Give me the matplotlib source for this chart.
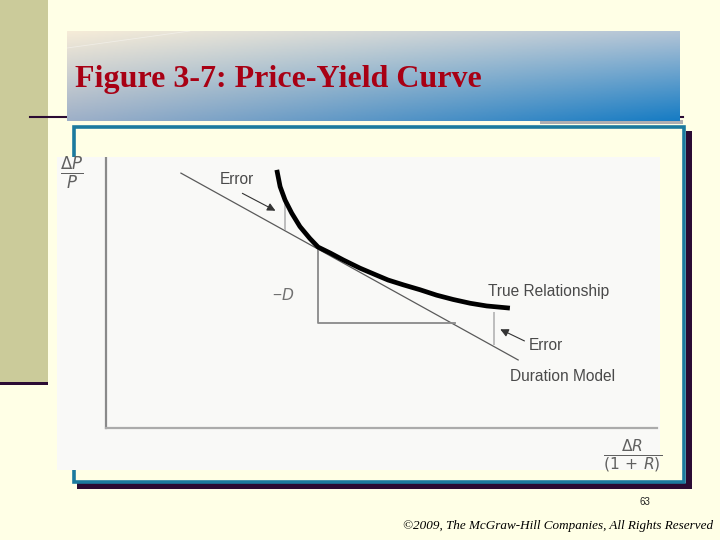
import numpy as np
import matplotlib
matplotlib.use('Agg')
import matplotlib.pyplot as plt
from matplotlib.patches import Rectangle

# --- diagram data (axis units: x = dR/(1+R), y = dP/P) ---
curve_x = [3.10, 3.16, 3.25, 3.37, 3.52, 3.70, 3.85, 4.07, 4.31, 4.61,
           4.91, 5.12, 5.40, 5.70, 6.00, 6.30, 6.61, 6.91, 7.33]
curve_y = [4.78, 4.47, 4.22, 3.98, 3.73, 3.51, 3.35, 3.24, 3.11, 2.96,
           2.83, 2.74, 2.65, 2.56, 2.46, 2.38, 2.31, 2.26, 2.22]
dur_x = [1.36, 7.48]
dur_y = [4.72, 1.26]
slope_x = [3.85, 3.85, 6.33]          # the "-D" rise/run triangle
slope_y = [3.33, 1.94, 1.94]
err_x = [3.25, 7.04]
err_lo = [3.67, 1.54]
err_hi = [4.25, 2.15]
axis_x_max = 10.0
axis_y_max = 5.0

title = 'Figure 3-7: Price-Yield Curve'
copyright_txt = '\u00a92009, The McGraw-Hill Companies, All Rights Reserved'
slide_no = '63'

BG = '#FFFFE6'
PANEL = '#F9F9F7'
BLUE = '#1B7A9E'
SHADOW = '#2B0B33'

plt.rcParams['mathtext.fontset'] = 'dejavusans'

fig = plt.figure(figsize=(7.2, 5.4), dpi=100)
fig.patch.set_facecolor(BG)

# --- slide background (pixel coords) ---
bg = fig.add_axes([0, 0, 1, 1])
bg.set_xlim(0, 720)
bg.set_ylim(540, 0)
bg.axis('off')

bg.add_patch(Rectangle((0, 0), 48, 382, color='#CBCB9A', lw=0))
bg.add_patch(Rectangle((0, 382), 48, 3, color=SHADOW, lw=0))
bg.plot([30, 683], [117, 117], color=SHADOW, lw=1.5)
bg.add_patch(Rectangle((540, 120), 143, 4, color='#AFAFB2', lw=0))

# gradient title box
h, w = 60, 240
u = np.linspace(0, 1, w)[None, :, None]
v = np.linspace(0, 1, h)[:, None, None]
tl = np.array([246, 236, 216]) / 255
tr = np.array([178, 196, 214]) / 255
bl = np.array([158, 176, 200]) / 255
br = np.array([22, 124, 196]) / 255
grad = (tl * (1 - u) * (1 - v) + tr * u * (1 - v) + bl * (1 - u) * v + br * u * v)
bg.imshow(grad, extent=(67, 680, 121, 31), aspect='auto', origin='upper', zorder=2)
bg.plot([67, 190], [48, 31], color='white', lw=0.6, alpha=0.4, zorder=3)
bg.set_xlim(0, 720)
bg.set_ylim(540, 0)

bg.text(75, 80, title, fontsize=23, fontweight='bold', family='Liberation Serif',
        color='#A80014', va='center', ha='left', zorder=4)

# content frame with shadow
bg.add_patch(Rectangle((686, 131), 6, 358, color=SHADOW, lw=0))
bg.add_patch(Rectangle((77, 483), 615, 6, color=SHADOW, lw=0))
bg.add_patch(Rectangle((73.5, 126.5), 610, 355, fill=False, ec=BLUE, lw=2.6))

bg.text(645, 502, slide_no, fontsize=7, family='Liberation Sans', color='#222',
        ha='center', va='center')
bg.text(713, 526, copyright_txt, fontsize=9.45, style='italic', family='Liberation Serif',
        color='black', ha='right', va='center')

# --- diagram panel ---
px0, px1, py0, py1 = 57, 660, 157, 470
ax = fig.add_axes([px0 / 720, (540 - py1) / 540, (px1 - px0) / 720, (py1 - py0) / 540])
ax.set_facecolor(PANEL)
for s in ax.spines.values():
    s.set_visible(False)
ax.set_xticks([])
ax.set_yticks([])
ax.set_xlim((px0 - 106) / 55.1, (px1 - 106) / 55.1)
ax.set_ylim((428 - py1) / 54, (428 - py0) / 54)

ax.plot([0, 0], [0, axis_y_max], color='#8A8A8A', lw=1.6)
ax.plot([0, axis_x_max], [0, 0], color='#ABABAB', lw=1.6)

ax.plot(dur_x, dur_y, color='#5A5A5A', lw=0.9)
ax.plot(slope_x, slope_y, color='#8A8A8A', lw=1.3)
ax.vlines(err_x, err_lo, err_hi, color='#BDBDBD', lw=1.4)
ax.plot(curve_x, curve_y, color='black', lw=3.4, solid_capstyle='butt')

txt = dict(family='Liberation Sans', color='#4A4A4A', fontsize=11.2)
ax.text(2.38, 4.61, 'Error', ha='center', va='center', **txt)
ax.annotate('', xy=(3.12, 4.0), xytext=(2.43, 4.37),
            arrowprops=dict(arrowstyle='-|>', color='#333', lw=0.8, mutation_scale=12))
ax.text(7.67, 1.52, 'Error', ha='left', va='center', **txt)
ax.annotate('', xy=(7.11, 1.85), xytext=(7.64, 1.59),
            arrowprops=dict(arrowstyle='-|>', color='#333', lw=0.8, mutation_scale=12))
ax.text(6.93, 2.52, 'True Relationship', ha='left', va='center', **txt)
ax.text(7.33, 0.96, 'Duration Model', ha='left', va='center', **txt)
ax.text(3.21, 2.46, '\u2212$D$', ha='center', va='center',
        family='Liberation Sans', color='#707070', fontsize=11.2)

ax.text(-0.63, 4.72, r'$\frac{\Delta P}{P}$', ha='center', va='center',
        fontsize=17, color='#606060')
ax.text(9.55, -0.52, r'$\frac{\Delta R}{(1\,+\,R)}$', ha='center', va='center',
        fontsize=16, color='#606060')

fig.savefig('out.png', dpi=100, facecolor=BG)
